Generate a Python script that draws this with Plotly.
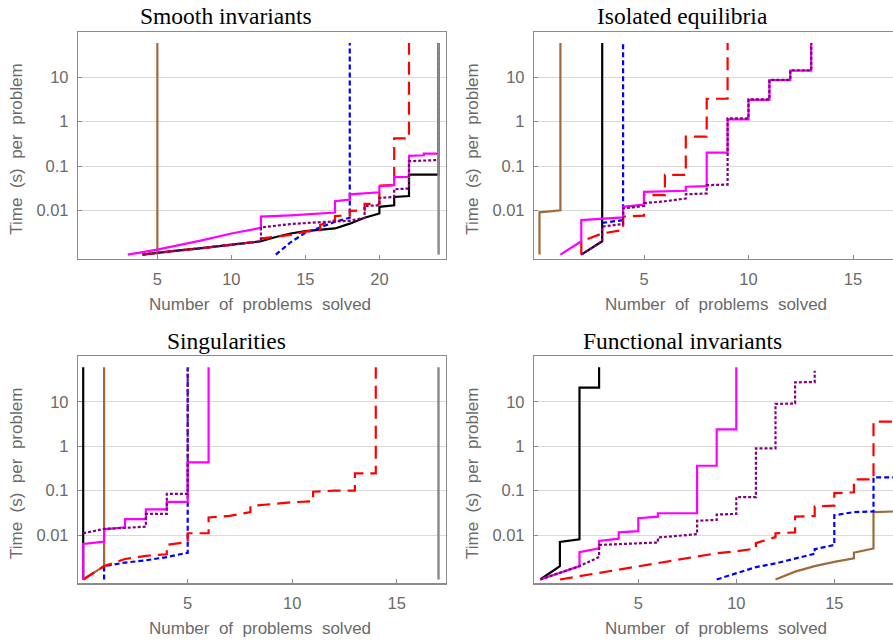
import plotly.graph_objects as go

# ---------------- Panel 1: Smooth invariants ----------------
p1_black_x = [4, 5, 6, 8, 10, 12, 13, 14, 15, 16, 17, 18, 19, 20, 20, 21, 21, 22, 22, 24, 24]
p1_black_y = [0.001, 0.0011, 0.0012, 0.0014, 0.0017, 0.002, 0.0025, 0.003, 0.0034, 0.0036, 0.0039,
              0.005, 0.0068, 0.0085, 0.012, 0.013, 0.02, 0.021, 0.064, 0.064, 60]
p1_brown_x = [5, 5]
p1_brown_y = [0.001, 60]
p1_blue_x = [13, 14, 15, 16, 17, 18, 18]
p1_blue_y = [0.001, 0.0019, 0.0031, 0.0042, 0.0055, 0.0068, 60]
p1_red_x = [4, 5, 8, 10, 12, 12, 13, 14, 15, 16, 16, 17, 17, 18, 18, 19, 19, 20, 20, 21, 21, 22, 22]
p1_red_y = [0.001, 0.0011, 0.0014, 0.0017, 0.002, 0.0023, 0.0025, 0.0028, 0.0033, 0.0036, 0.0047,
            0.006, 0.0074, 0.0077, 0.0097, 0.01, 0.014, 0.014, 0.036, 0.037, 0.42, 0.42, 60]
p1_magenta_x = [3, 5, 8, 10, 12, 12, 14, 17, 17, 18, 18, 20, 20, 21, 21, 22, 22, 23, 23, 24, 24]
p1_magenta_y = [0.001, 0.0013, 0.0021, 0.003, 0.004, 0.0072, 0.0077, 0.0089, 0.016, 0.0175, 0.023,
                0.0255, 0.035, 0.037, 0.056, 0.057, 0.17, 0.175, 0.19, 0.19, 60]
p1_purple_x = [4, 5, 8, 10, 12, 12, 14, 16, 18, 19, 19, 20, 20, 21, 21, 22, 22, 24, 24]
p1_purple_y = [0.001, 0.0011, 0.0014, 0.0017, 0.002, 0.0041, 0.0049, 0.0054, 0.0058, 0.0068, 0.0125,
               0.013, 0.019, 0.02, 0.03, 0.031, 0.128, 0.137, 60]
p1_gray_x = [24, 24]
p1_gray_y = [0.001, 60]

# ---------------- Panel 2: Isolated equilibria ----------------
p2_black_x = [2, 3, 3]
p2_black_y = [0.001, 0.002, 60]
p2_brown_x = [0, 0, 1, 1]
p2_brown_y = [0.001, 0.009, 0.01, 60]
p2_blue_x = [3, 4, 4]
p2_blue_y = [0.0052, 0.006, 60]
p2_red_x = [2, 2, 3, 4, 4, 5, 5, 6, 6, 7, 7, 8, 8, 9, 9]
p2_red_y = [0.001, 0.002, 0.003, 0.0036, 0.0072, 0.0076, 0.022, 0.022, 0.063, 0.063, 0.46, 0.46,
            3.3, 3.3, 60]
p2_magenta_x = [1, 2, 2, 4, 4, 5, 5, 7, 7, 8, 8, 9, 9, 10, 10, 11, 11, 12, 12, 13, 13]
p2_magenta_y = [0.001, 0.002, 0.006, 0.0069, 0.012, 0.0135, 0.026, 0.0276, 0.034, 0.035, 0.2, 0.2,
                1.13, 1.13, 3.1, 3.1, 8.7, 8.7, 14.2, 14.2, 60]
p2_purple_x = [2, 3, 3, 4, 4, 5, 5, 6, 7, 7, 8, 8, 9, 9, 10, 10, 11, 11, 12, 12, 13, 13]
p2_purple_y = [0.001, 0.002, 0.0043, 0.0049, 0.011, 0.0125, 0.0145, 0.016, 0.0185, 0.023, 0.024,
               0.037, 0.038, 1.19, 1.19, 3.2, 3.2, 8.8, 8.8, 14.5, 14.5, 60]

# ---------------- Panel 3: Singularities ----------------
p3_black_x = [0, 0]
p3_black_y = [0.001, 60]
p3_brown_x = [0, 1, 1]
p3_brown_y = [0.001, 0.002, 60]
p3_blue_x = [1, 1, 2, 3, 4, 5, 5]
p3_blue_y = [0.001, 0.002, 0.0024, 0.0027, 0.0032, 0.004, 60]
p3_red_x = [0, 1, 2, 3, 4, 4, 5, 5, 6, 6, 7, 8, 8, 9, 10, 11, 11, 12, 13, 13, 14, 14]
p3_red_y = [0.001, 0.002, 0.0029, 0.0034, 0.0037, 0.006, 0.007, 0.011, 0.011, 0.025, 0.027, 0.033,
            0.045, 0.05, 0.055, 0.058, 0.095, 0.1, 0.1, 0.245, 0.245, 60]
p3_magenta_x = [0, 0, 1, 1, 2, 2, 3, 3, 4, 4, 5, 5, 6, 6]
p3_magenta_y = [0.001, 0.0063, 0.0071, 0.0135, 0.015, 0.023, 0.023, 0.038, 0.038, 0.056, 0.056,
                0.435, 0.435, 60]
p3_purple_x = [0, 1, 2, 3, 3, 4, 4, 5, 5]
p3_purple_y = [0.011, 0.0138, 0.0145, 0.0155, 0.03, 0.03, 0.085, 0.085, 60]
p3_gray_x = [17, 17]
p3_gray_y = [0.001, 60]

# ---------------- Panel 4: Functional invariants ----------------
p4_black_x = [0, 1, 1, 2, 2, 3, 3]
p4_black_y = [0.001, 0.002, 0.007, 0.008, 21, 21, 60]
p4_brown_x = [12, 13, 14, 15, 16, 16, 17, 17, 18]
p4_brown_y = [0.001, 0.0015, 0.002, 0.0025, 0.003, 0.004, 0.005, 0.033, 0.034]
p4_blue_x = [9, 10, 11, 12, 13, 14, 14, 15, 15, 16, 17, 17, 18]
p4_blue_y = [0.001, 0.0014, 0.0019, 0.0023, 0.0029, 0.0038, 0.0048, 0.006, 0.028, 0.033, 0.034, 0.2, 0.2]
p4_red_x = [1, 3, 5, 7, 9, 10, 11, 11, 12, 12, 13, 13, 14, 14, 15, 15, 16, 16, 17, 17, 18]
p4_red_y = [0.001, 0.0014, 0.002, 0.00275, 0.0039, 0.0043, 0.005, 0.0066, 0.009, 0.011, 0.0115,
            0.026, 0.027, 0.044, 0.046, 0.088, 0.092, 0.18, 0.18, 3.6, 3.6]
p4_magenta_x = [0, 2, 2, 3, 3, 4, 4, 5, 5, 6, 6, 8, 8, 9, 9, 10, 10]
p4_magenta_y = [0.001, 0.002, 0.0041, 0.005, 0.0074, 0.0083, 0.0115, 0.0123, 0.024, 0.026, 0.031,
                0.031, 0.365, 0.365, 2.4, 2.4, 60]
p4_purple_x = [0, 2, 3, 3, 6, 6, 8, 8, 9, 9, 10, 10, 11, 11, 12, 12, 13, 13, 14, 14]
p4_purple_y = [0.001, 0.002, 0.0032, 0.006, 0.0068, 0.0088, 0.0105, 0.021, 0.022, 0.029, 0.03,
               0.072, 0.072, 0.9, 0.9, 9.0, 9.2, 27.6, 28, 50]

titles = ["Smooth invariants", "Isolated equilibria", "Singularities", "Functional invariants"]
p1_xticks = [5, 10, 15, 20]
p234_xticks = [5, 10, 15]
y_ticks = [0.01, 0.1, 1, 10]
y_ticktext = ["0.01", "0.1", "1", "10"]

# ---------------- styles ----------------
styles = {
    "black": dict(color="#000000", width=2.2, dash="solid"),
    "brown": dict(color="#9F6A3A", width=2.2, dash="solid"),
    "blue": dict(color="#0000FF", width=2.2, dash="5px,3px"),
    "red": dict(color="#FF0000", width=2.2, dash="13px,7px"),
    "magenta": dict(color="#FF00FF", width=2.2, dash="solid"),
    "purple": dict(color="#800080", width=2.2, dash="3px,2px"),
    "gray": dict(color="#8C8C8C", width=2.5, dash="solid"),
}
order = ["black", "brown", "blue", "red", "magenta", "purple", "gray"]

panels = [
    {"black": (p1_black_x, p1_black_y), "brown": (p1_brown_x, p1_brown_y), "blue": (p1_blue_x, p1_blue_y),
     "red": (p1_red_x, p1_red_y), "magenta": (p1_magenta_x, p1_magenta_y),
     "purple": (p1_purple_x, p1_purple_y), "gray": (p1_gray_x, p1_gray_y)},
    {"black": (p2_black_x, p2_black_y), "brown": (p2_brown_x, p2_brown_y), "blue": (p2_blue_x, p2_blue_y),
     "red": (p2_red_x, p2_red_y), "magenta": (p2_magenta_x, p2_magenta_y),
     "purple": (p2_purple_x, p2_purple_y)},
    {"black": (p3_black_x, p3_black_y), "brown": (p3_brown_x, p3_brown_y), "blue": (p3_blue_x, p3_blue_y),
     "red": (p3_red_x, p3_red_y), "magenta": (p3_magenta_x, p3_magenta_y),
     "purple": (p3_purple_x, p3_purple_y), "gray": (p3_gray_x, p3_gray_y)},
    {"black": (p4_black_x, p4_black_y), "brown": (p4_brown_x, p4_brown_y), "blue": (p4_blue_x, p4_blue_y),
     "red": (p4_red_x, p4_red_y), "magenta": (p4_magenta_x, p4_magenta_y),
     "purple": (p4_purple_x, p4_purple_y)},
]

W, H = 893, 644
col_dom = [[78 / W, 446 / W], [534 / W, 1.0]]
row_dom = [[1 - 259 / H, 1 - 32 / H], [1 - 583.3 / H, 1 - 356 / H]]
x_ranges = [[-0.36, 24.5], [-0.263, 16.914], [-0.249, 17.36], [-0.321, 17.995]]
y_ranges = [[-3.099, 2.025], [-3.086, 2.034]]

fig = go.Figure()
for i, pdata in enumerate(panels):
    ax = "" if i == 0 else str(i + 1)
    for name in order:
        if name not in pdata:
            continue
        xs, ys = pdata[name]
        fig.add_trace(go.Scatter(x=xs, y=ys, mode="lines", line=styles[name],
                                 xaxis="x" + ax, yaxis="y" + ax, showlegend=False, hoverinfo="skip"))

tick_font = dict(family="Liberation Sans, Arial, sans-serif", size=16.5, color="#6a6a6a")
axis_line = "#8c8c8c"
for i in range(4):
    r, c = divmod(i, 2)
    ax = "" if i == 0 else str(i + 1)
    fig.update_layout(**{
        "xaxis" + ax: dict(domain=col_dom[c], range=x_ranges[i], anchor="y" + ax,
                           tickvals=p1_xticks if i == 0 else p234_xticks,
                           ticks="inside", ticklen=4, tickcolor=axis_line, tickwidth=1,
                           showline=True, linecolor=axis_line, linewidth=1.2, mirror=True,
                           showgrid=False, zeroline=False, tickfont=tick_font,
                           ticklabelstandoff=5),
        "yaxis" + ax: dict(domain=row_dom[r], type="log", range=y_ranges[r], anchor="x" + ax,
                           tickvals=y_ticks, ticktext=y_ticktext,
                           ticks="inside", ticklen=4, tickcolor=axis_line, tickwidth=1,
                           showline=True, linecolor=axis_line, linewidth=1.2,
                           mirror=(c == 0), showgrid=True, gridcolor="#dadada", gridwidth=1,
                           zeroline=False, tickfont=tick_font, ticklabelstandoff=5),
    })

ann = []
title_font = dict(family="Liberation Serif, Times New Roman, serif", size=23.5, color="#000000")
label_font = dict(family="Liberation Sans, Arial, sans-serif", size=17, color="#6a6a6a")
xlab = "Number\u00a0 of\u00a0 problems\u00a0 solved"
ylab = "Time\u00a0 (s)\u00a0 per\u00a0 problem"
title_x = [226, 682]
title_y = [16, 341]
xlab_x = [260, 716]
xlab_y = [304, 628]
ylab_x = [16.7, 472.7]
ylab_y = [149, 473.3]
for i in range(4):
    r, c = divmod(i, 2)
    ann.append(dict(text=titles[i], x=title_x[c] / W, y=1 - title_y[r] / H, xref="paper", yref="paper",
                    xanchor="center", yanchor="middle", showarrow=False, font=title_font))
    ann.append(dict(text=xlab, x=xlab_x[c] / W, y=1 - xlab_y[r] / H, xref="paper", yref="paper",
                    xanchor="center", yanchor="middle", showarrow=False, font=label_font))
    ann.append(dict(text=ylab, x=ylab_x[c] / W, y=1 - ylab_y[r] / H, xref="paper", yref="paper",
                    xanchor="center", yanchor="middle", showarrow=False, font=label_font,
                    textangle=-90))

fig.update_layout(width=W, height=H, margin=dict(l=0, r=0, t=0, b=0),
                  paper_bgcolor="white", plot_bgcolor="white", annotations=ann)

fig.write_html("out.html", config={"displayModeBar": False, "staticPlot": True},
               post_script="document.body.style.margin='0px';document.body.style.overflow='hidden';")
